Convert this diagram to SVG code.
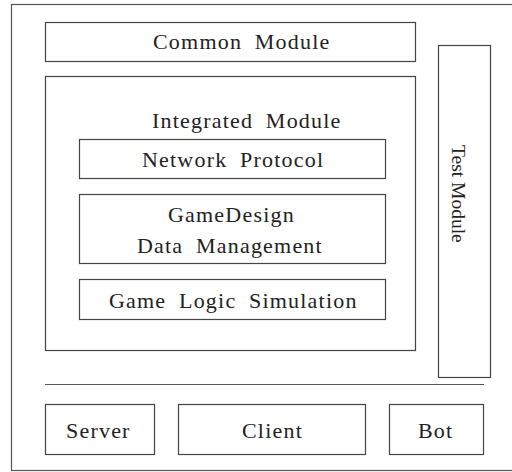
<svg xmlns="http://www.w3.org/2000/svg" width="512" height="472" viewBox="0 0 512 472">
<style>
.box{fill:#fff;stroke:#444;stroke-width:1.2}
.frame{fill:#fff;stroke:#555;stroke-width:1.2}
.t{font-family:"Liberation Serif","Times New Roman",serif;font-size:22px;fill:#222;letter-spacing:1.2px;word-spacing:6px}
.v{font-family:"Liberation Serif","Times New Roman",serif;font-size:19.5px;fill:#222}
</style>
<rect class="frame" x="11.5" y="4.5" width="510" height="466"/>
<g id="common"><rect class="box" x="45.5" y="22.5" width="370" height="39"/><text class="t" x="153" y="49">Common Module</text></g>
<g id="integrated"><rect class="box" x="45.5" y="76.5" width="370" height="274"/><text class="t" x="152" y="128">Integrated Module</text></g>
<g id="network"><rect class="box" x="79.5" y="139.5" width="306" height="39"/><text class="t" x="142" y="167">Network Protocol</text></g>
<g id="gamedesign"><rect class="box" x="79.5" y="194.5" width="306" height="69"/><text class="t" x="168" y="222">GameDesign</text><text class="t" x="137" y="253">Data Management</text></g>
<g id="gamelogic"><rect class="box" x="79.5" y="279.5" width="306" height="40"/><text class="t" x="109" y="308">Game Logic Simulation</text></g>
<g id="test"><rect class="box" x="438.5" y="45.5" width="52" height="332"/><text class="v" transform="translate(452,145) rotate(90)">Test Module</text></g>
<g id="connectors"><line x1="45" y1="384.5" x2="484" y2="384.5" stroke="#555" stroke-width="1.2"/></g>
<g id="server"><rect class="box" x="45.5" y="404.5" width="109" height="50"/><text class="t" x="66" y="438">Server</text></g>
<g id="client"><rect class="box" x="178.5" y="404.5" width="187" height="50"/><text class="t" x="242" y="438">Client</text></g>
<g id="bot"><rect class="box" x="389.5" y="404.5" width="94" height="50"/><text class="t" x="418" y="438">Bot</text></g>
</svg>
